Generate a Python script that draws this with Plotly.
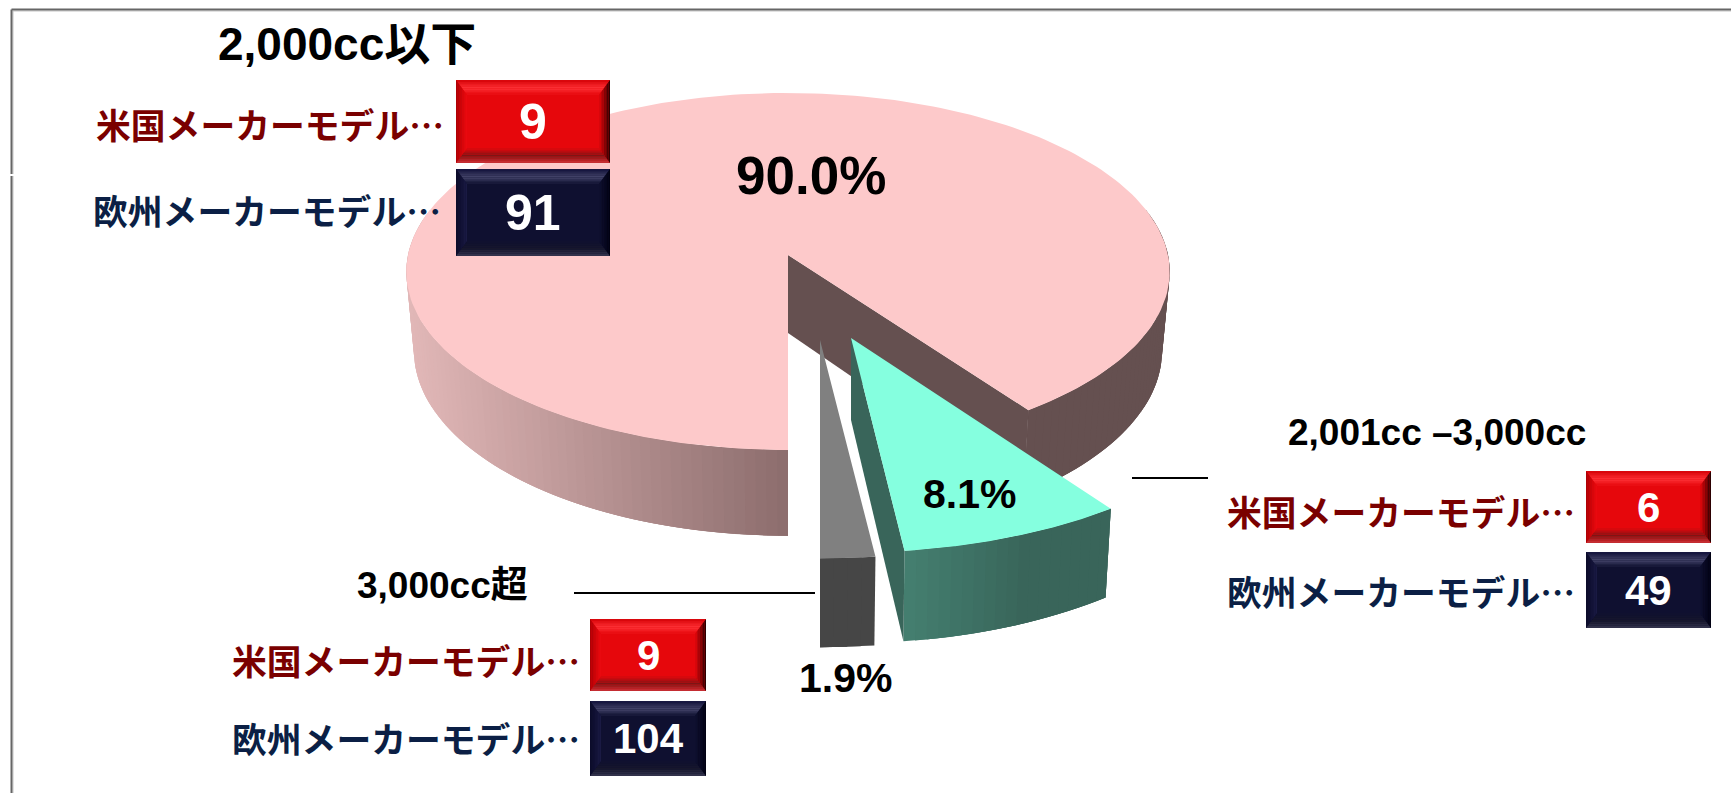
import numpy as np
import plotly.graph_objects as go

# ---- data ----
categories = ["2,000cc以下", "2,001cc –3,000cc", "3,000cc超"]
shares = [90.0, 8.1, 1.9]
share_labels = ["90.0%", "8.1%", "1.9%"]
us_models = [9, 6, 9]
eu_models = [91, 49, 104]
us_label = "米国メーカーモデル…"
eu_label = "欧州メーカーモデル…"

# ---- style / layout ----
W, H = 1731, 793
LATIN = "Liberation Sans, Arial, Noto Sans CJK JP"
CJK = "Noto Sans CJK JP, Liberation Sans"
RED_TEXT, NAVY_TEXT = "#7a0000", "#0b1f45"

fig = go.Figure()


def hex2rgb(c):
    c = c.lstrip("#")
    return np.array([int(c[i:i + 2], 16) for i in (0, 2, 4)], float)


def mix(c0, c1, f):
    f = min(max(f, 0.0), 1.0)
    v = hex2rgb(c0) * (1 - f) + hex2rgb(c1) * f
    return "rgb(%d,%d,%d)" % tuple(v.round())


def poly(xs, ys, color, lw=0.0):
    fig.add_trace(go.Scatter(
        x=list(xs), y=list(ys), mode="lines", fill="toself", fillcolor=color,
        line=dict(color=color, width=lw), hoverinfo="skip", showlegend=False))


# tilted-disc projection: t in degrees clockwise from the top
A, B, KX, KY = 380.0, 178.5, 0.095, 0.0924


def rim(t):
    r = np.radians(np.asarray(t, float))
    s, c = np.sin(r), -np.cos(r)
    return A * s * (1 + KX * c), B * c * (1 + KY * c)


def disc_slice(t0, t1, apex, scale, depth, top_color, side_fn, side_ranges,
               inner=None):
    ax, ay = apex
    sx, sy = scale
    for (a, b) in side_ranges:
        ts = np.linspace(a, b, max(2, int(abs(b - a) / 1.5) + 1))
        dx, dy = rim(ts)
        tx, ty = ax + dx * sx, ay + dy * sy
        bx, by = ax + dx * sx * 0.98, ay + depth + dy * sy * 1.04
        n = len(ts)
        # later strips overlap earlier ones so no seams show between them
        for i in range(n - 1):
            j = min(i + 3, n - 1)
            idx = np.arange(i, j + 1)
            poly(np.r_[tx[idx], bx[idx][::-1], tx[i]],
                 np.r_[ty[idx], by[idx][::-1], ty[i]],
                 side_fn(0.5 * (tx[i] + tx[i + 1])))
    if inner is not None:
        for t, col in inner:
            dx, dy = rim(t)
            poly([ax, ax + dx * sx, ax + dx * sx * 0.98, ax, ax],
                 [ay, ay + dy * sy, ay + depth + dy * sy * 1.04, ay + depth, ay],
                 col)
    ts = np.linspace(t0, t1, 240)
    dx, dy = rim(ts)
    poly(np.r_[ax, ax + dx * sx, ax], np.r_[ay, ay + dy * sy, ay], top_color)


# slice angles come from the shares; the pie closes at the bottom (180 deg)
gap_big = 360 * (shares[1] + shares[2]) / 100
t_mint0 = 180 - gap_big
t_mint1 = t_mint0 + 360 * shares[1] / 100
t_gray1 = t_mint1 + 360 * shares[2] / 100

# large slice
disc_slice(
    180, 180 + 360 * shares[0] / 100, (788, 255), (1, 1), 78, "#fdc9ca",
    lambda x: mix("#e2b8b8", "#8c6d6d", (x - 405) / 383)
    if x < 788 else "#655050",
    [(285, 180), (75, t_mint0)],
    inner=[(t_mint0, "#655050")])

# small slice
disc_slice(
    t_mint1, t_gray1, (820, 340), (1.12, 1.12), 80, "#808080",
    lambda x: "#464646", [(t_mint1, t_gray1)])

# middle slice: inner wall first, then the front, then the top
disc_slice(
    t_mint0, t_mint1, (851, 338), (1.08, 1.10), 82, "#85ffdf",
    lambda x: mix("#447f70", "#39655a", (x - 907) / 120),
    [(t_mint1, t_mint0)],
    inner=[(t_mint1, "#39655a")])

shapes = []


def rect_path(pts):
    return "M" + " L".join(f"{x:.2f},{y:.2f}" for x, y in pts) + " Z"


def add_poly(pts, color):
    shapes.append(dict(type="path", path=rect_path(pts), xref="x", yref="y",
                       fillcolor=color, line=dict(width=0), layer="above"))


def ramp(stops, f):
    for (f0, c0), (f1, c1) in zip(stops, stops[1:]):
        if f <= f1:
            return mix(c0, c1, (f - f0) / (f1 - f0))
    return stops[-1][1]


RED_BEVEL = dict(
    fill="#e6070c",
    top=[(0, "#d30006"), (0.55, "#ff3338"), (1, "#e6070c")],
    bottom=[(0, "#d03036"), (0.5, "#7d1515"), (1, "#e6070c")],
    left=[(0, "#a80004"), (1, "#ee0a10")],
    right=[(0, "#1e0000"), (1, "#e6070c")])
NAVY_BEVEL = dict(
    fill="#0f1030",
    top=[(0, "#10103a"), (0.55, "#46466c"), (1, "#0f1030")],
    bottom=[(0, "#35354f"), (0.5, "#17172c"), (1, "#0f1030")],
    left=[(0, "#0a0a28"), (1, "#1b1b45")],
    right=[(0, "#000010"), (1, "#0f1030")])


def bevel_box(x0, y0, x1, y1, style):
    tw, sw, n = 15.0, 11.0, 7
    add_poly([(x0, y0), (x1, y0), (x1, y1), (x0, y1)], style["fill"])
    for i in range(n):
        f0, f1 = i / n, (i + 1) / n
        fm = 0.5 * (f0 + f1)
        add_poly([(x0 + f0 * sw, y0 + f0 * tw), (x1 - f0 * sw, y0 + f0 * tw),
                  (x1 - f1 * sw, y0 + f1 * tw), (x0 + f1 * sw, y0 + f1 * tw)],
                 ramp(style["top"], fm))
        add_poly([(x0 + f0 * sw, y1 - f0 * tw), (x1 - f0 * sw, y1 - f0 * tw),
                  (x1 - f1 * sw, y1 - f1 * tw), (x0 + f1 * sw, y1 - f1 * tw)],
                 ramp(style["bottom"], fm))
        add_poly([(x0 + f0 * sw, y0 + f0 * tw), (x0 + f1 * sw, y0 + f1 * tw),
                  (x0 + f1 * sw, y1 - f1 * tw), (x0 + f0 * sw, y1 - f0 * tw)],
                 ramp(style["left"], fm))
        add_poly([(x1 - f0 * sw, y0 + f0 * tw), (x1 - f1 * sw, y0 + f1 * tw),
                  (x1 - f1 * sw, y1 - f1 * tw), (x1 - f0 * sw, y1 - f0 * tw)],
                 ramp(style["right"], fm))


def text(x, y, s, size, color="#000000", family=LATIN, anchor="center"):
    fig.add_annotation(x=x, y=y, text=s, showarrow=False, xref="x", yref="y",
                       xanchor=anchor, yanchor="middle", borderpad=0,
                       font=dict(family=family, size=size, color=color, weight=700))


# per-category label blocks
blocks = [
    dict(title=(347, 44, 46), us_x=95, eu_x=92, us_y=124, eu_y=210,
         red=(456, 80, 610, 163), navy=(456, 169, 610, 256), size=50),
    dict(title=(1437, 432, 37), us_x=1226, eu_x=1226, us_y=511, eu_y=591,
         red=(1586, 471, 1711, 543), navy=(1586, 552, 1711, 628), size=42),
    dict(title=(442, 585, 37), us_x=231, eu_x=231, us_y=660, eu_y=738,
         red=(590, 619, 706, 691), navy=(590, 701, 706, 776), size=42),
]
for cat, us, eu, b in zip(categories, us_models, eu_models, blocks):
    tx, ty, ts_ = b["title"]
    text(tx, ty, cat, ts_)
    text(b["us_x"], b["us_y"], us_label, 34.8, RED_TEXT, CJK, "left")
    text(b["eu_x"], b["eu_y"], eu_label, 34.8, NAVY_TEXT, CJK, "left")
    bevel_box(*b["red"], RED_BEVEL)
    bevel_box(*b["navy"], NAVY_BEVEL)
    text((b["red"][0] + b["red"][2]) / 2, (b["red"][1] + b["red"][3]) / 2, str(us), b["size"], "#ffffff")
    text((b["navy"][0] + b["navy"][2]) / 2, (b["navy"][1] + b["navy"][3]) / 2, str(eu), b["size"], "#ffffff")

# share labels on the slices
for lab, (x, y, s) in zip(share_labels, [(811, 175, 53), (969, 494, 41), (845, 678, 41)]):
    text(x, y, lab, s)

# leader lines
for (x0, x1, y) in [(1132, 1208, 478), (574, 815, 593)]:
    shapes.append(dict(type="line", x0=x0, x1=x1, y0=y, y1=y, xref="x", yref="y",
                       line=dict(color="#000000", width=2), layer="above"))

# frame: dark line with a pale inner edge, open at the right and bottom
for (x0, y0, x1, y1, c, w) in [
    (13, 11, W, 11, "#c4c4c4", 1), (13, 11, 13, 174, "#c4c4c4", 1),
    (13, 176, 13, H, "#c4c4c4", 1),
    (11.5, 9.5, W, 9.5, "#666666", 2), (11.5, 9.5, 11.5, 174, "#666666", 2),
    (11.5, 176, 11.5, H, "#666666", 2),
]:
    shapes.append(dict(type="line", x0=x0, y0=y0, x1=x1, y1=y1, xref="x", yref="y",
                       line=dict(color=c, width=w), layer="above"))

fig.update_layout(
    width=W, height=H, margin=dict(l=0, r=0, t=0, b=0),
    paper_bgcolor="#ffffff", plot_bgcolor="#ffffff", showlegend=False,
    xaxis=dict(range=[0, W], visible=False, fixedrange=True),
    yaxis=dict(range=[H, 0], visible=False, fixedrange=True),
    shapes=shapes,
)
fig.write_html("out.html", config=dict(displayModeBar=False),
               post_script="document.body.style.margin='0';document.body.style.overflow='hidden';")
